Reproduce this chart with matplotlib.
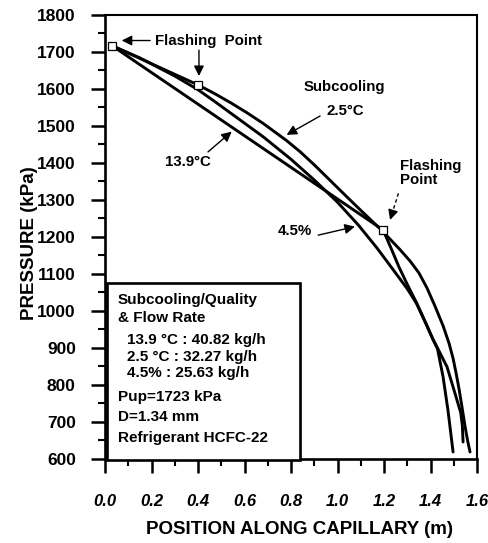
import matplotlib
matplotlib.use("Agg")
import matplotlib.pyplot as plt
from matplotlib.patches import Rectangle
from matplotlib.ticker import MultipleLocator, FixedLocator

plt.rcParams['font.family'] = ['Liberation Sans', 'DejaVu Sans']

# ---- data (position along capillary [m], pressure [kPa]) ----
pos_139 = [0.03, 1.196, 1.23, 1.265, 1.30, 1.34, 1.38, 1.41, 1.43, 1.471, 1.505, 1.53, 1.537, 1.54]
p_139 = [1717, 1219, 1170, 1118, 1072, 1022, 967, 924, 900, 849, 778, 725, 690, 646]

pos_25 = [0.03, 0.40, 0.47, 0.54, 0.61, 0.68, 0.78, 0.84, 0.90, 0.96, 1.015, 1.10, 1.19, 1.27,
          1.312, 1.35, 1.385, 1.42, 1.454, 1.48, 1.497, 1.51, 1.523, 1.535, 1.548, 1.56, 1.57]
p_25 = [1717, 1611, 1588, 1563, 1536, 1507, 1461, 1430, 1395, 1358, 1324, 1272, 1218, 1165,
        1135, 1103, 1062, 1012, 960, 912, 872, 832, 788, 742, 690, 648, 619]

pos_45 = [0.03, 0.15, 0.30, 0.40, 0.47, 0.54, 0.61, 0.68, 0.80, 0.90, 1.00, 1.09, 1.17, 1.24,
          1.30, 1.34, 1.38, 1.41, 1.43, 1.454, 1.475, 1.497]
p_45 = [1717, 1684, 1635, 1598, 1567, 1535, 1503, 1471, 1410, 1354, 1294, 1232, 1170, 1111,
        1060, 1020, 966, 924, 898, 822, 732, 619]

flash_pos = [0.03, 0.40, 1.196]
flash_p = [1717, 1611, 1219]

x_ticks = [0.0, 0.2, 0.4, 0.6, 0.8, 1.0, 1.2, 1.4, 1.6]
x_ticklabels = ['0.0', '0.2', '0.4', '0.6', '0.8', '1.0', '1.2', '1.4', '1.6']
y_ticks = [600, 700, 800, 900, 1000, 1100, 1200, 1300, 1400, 1500, 1600, 1700, 1800]
y_ticklabels = [str(v) for v in y_ticks]

legend_lines = ["Subcooling/Quality", "& Flow Rate",
                "13.9 \u00b0C : 40.82 kg/h", "2.5 \u00b0C : 32.27 kg/h", "4.5% : 25.63 kg/h",
                "Pup=1723 kPa", "D=1.34 mm", "Refrigerant HCFC-22"]

# ---- figure ----
fig = plt.figure(figsize=(4.88, 5.43), dpi=100)
ax = fig.add_axes([0.2152, 0.1547, 0.7623, 0.8177])

lw = 2.1
for xs, ys in [(pos_139, p_139), (pos_25, p_25), (pos_45, p_45)]:
    ax.plot(xs, ys, color='black', lw=lw, solid_joinstyle='round', solid_capstyle='round', zorder=3)
ax.plot(flash_pos, flash_p, linestyle='none', marker='s', ms=5.5, mfc='white',
        mec='black', mew=0.9, zorder=5)

ax.set_xlim(0, 1.6)
ax.set_ylim(600, 1800)

ax.xaxis.set_major_locator(FixedLocator(x_ticks))
ax.set_xticklabels(x_ticklabels)
ax.xaxis.set_minor_locator(MultipleLocator(0.1))
ax.yaxis.set_major_locator(FixedLocator(y_ticks))
ax.set_yticklabels(y_ticklabels)
ax.yaxis.set_minor_locator(MultipleLocator(50))

ax.tick_params(axis='both', which='major', direction='out', length=10, width=1.8)
ax.tick_params(axis='both', which='minor', direction='out', length=5, width=1.5)
ax.tick_params(axis='x', which='major', pad=15)
ax.tick_params(axis='y', which='major', pad=11)
ax.tick_params(top=False, right=False, which='both')

for lab in ax.get_xticklabels():
    lab.set_fontsize(12)
    lab.set_fontweight('bold')
    lab.set_fontstyle('italic')
for lab in ax.get_yticklabels():
    lab.set_fontsize(12.5)
    lab.set_fontweight('bold')

for s in ['left', 'bottom']:
    ax.spines[s].set_linewidth(1.9)
for s in ['top', 'right']:
    ax.spines[s].set_linewidth(1.5)

fig.text(30 / 488, 1 - 243 / 543, "PRESSURE (kPa)", rotation=90, ha='center', va='center',
         fontsize=13.5, fontweight='bold')
fig.text(300 / 488, 1 - 529 / 543, "POSITION ALONG CAPILLARY (m)", ha='center', va='center',
         fontsize=13.5, fontweight='bold')

afs = 10.8
arw = dict(arrowstyle='-|>', color='black', lw=1.0, mutation_scale=15, shrinkA=0, shrinkB=0)

# Flashing point (top-left)
ax.text(0.215, 1731, "Flashing  Point", fontsize=afs, fontweight='bold', ha='left', va='center')
ax.annotate("", xy=(0.072, 1731), xytext=(0.194, 1731), arrowprops=arw)
# down arrow to marker at 0.4
ax.annotate("", xy=(0.404, 1635), xytext=(0.404, 1705), arrowprops=arw)

# Subcooling 2.5 C
ax.text(1.028, 1605, "Subcooling", fontsize=afs, fontweight='bold', ha='center', va='center')
ax.text(1.032, 1541, "2.5\u00b0C", fontsize=afs, fontweight='bold', ha='center', va='center')
ax.annotate("", xy=(0.781, 1476), xytext=(0.925, 1527), arrowprops=arw)

# 13.9 C
ax.text(0.358, 1404, "13.9\u00b0C", fontsize=afs, fontweight='bold', ha='center', va='center')
ax.annotate("", xy=(0.545, 1485), xytext=(0.443, 1430), arrowprops=arw)

# Flashing point (right)
ax.text(1.269, 1372, "Flashing\nPoint", fontsize=afs, fontweight='bold', ha='left', va='center',
        linespacing=1.0)
ax.plot([1.262, 1.236], [1318, 1266], color='black', lw=1.0, linestyle=(0, (2.5, 2)))
ax.annotate("", xy=(1.226, 1246), xytext=(1.236, 1266), arrowprops=arw)

# 4.5 %
ax.text(0.817, 1216, "4.5%", fontsize=afs, fontweight='bold', ha='center', va='center')
ax.annotate("", xy=(1.075, 1228), xytext=(0.917, 1205), arrowprops=arw)

# legend box
ax.add_patch(Rectangle((0.01, 598), 0.829, 1075 - 598, facecolor='white', edgecolor='black',
                       lw=1.9, zorder=4, clip_on=False))
leg_x = [0.056, 0.056, 0.093, 0.093, 0.093, 0.056, 0.056, 0.056]
leg_y = [1030, 981, 922, 877, 832, 768, 714, 658]
for t, lx, ly in zip(legend_lines, leg_x, leg_y):
    ax.text(lx, ly, t, fontsize=11, fontweight='bold', ha='left', va='center', zorder=6)

fig.savefig("out.png", dpi=100)
